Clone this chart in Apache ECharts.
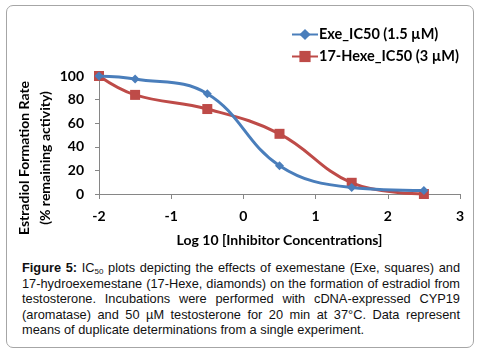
<!DOCTYPE html>
<html>
<head>
<meta charset="utf-8">
<script src="https://cdn.jsdelivr.net/npm/echarts@6/dist/echarts.min.js"></script>
<style>
  body { margin: 0; background: #fff; }
  #frame {
    position: absolute; left: 6px; top: 5px; width: 466px; height: 341px;
    border: 1px solid #a6a6a6; border-radius: 7px;
  }
  #chart { position: absolute; left: 0; top: 0; width: 480px; height: 252px; }
  #caption {
    position: absolute; left: 22px; top: 260px; width: 438px;
    font-family: 'Liberation Sans', Arial, sans-serif; font-size: 12.8px;
    line-height: 15.6px; color: #111;
  }
  #caption div { text-align: justify; text-align-last: justify; white-space: nowrap; }
  #caption div.last { text-align-last: left; }
  #caption sub { font-size: 8px; vertical-align: -2px; line-height: 0; }
</style>
</head>
<body>
<div id="frame"></div>
<div id="chart"></div>
<div id="caption">
  <div><b>Figure 5:</b> IC<sub>50</sub> plots depicting the effects of exemestane (Exe, squares) and</div>
  <div>17-hydroexemestane (17-Hexe, diamonds) on the formation of estradiol from</div>
  <div>testosterone. Incubations were performed with cDNA-expressed CYP19</div>
  <div>(aromatase) and 50 µM testosterone for 20 min at 37°C. Data represent</div>
  <div class="last">means of duplicate determinations from a single experiment.</div>
</div>
<script>
// log10 concentrations and remaining activity (%)
const logConc = [-2, -1.5, -0.5, 0.5, 1.5, 2.5]
const exeValues = [100, 97.5, 85, 24, 5.5, 3]
const hexeValues = [100, 84, 72, 51, 9.5, 0]
const seriesNames = ['Exe_IC50 (1.5 µM)', '17-Hexe_IC50 (3 µM)']

const font = 'Lato, Calibri, sans-serif'
const chart = echarts.init(document.getElementById('chart'))

const toPairs = (vals) => logConc.map((x, i) => [x, vals[i]])

chart.setOption({
  animation: false,
  textStyle: { fontFamily: font },
  legend: {
    orient: 'vertical',
    left: 286,
    top: 22,
    itemWidth: 26,
    itemHeight: 14,
    itemGap: 7,
    data: seriesNames,
    textStyle: { fontFamily: font, fontSize: 14.5, fontWeight: 'bold', color: '#000', padding: [0, 0, 0, -4] },
  },
  grid: { left: 99, right: 20, top: 76, height: 118 },
  xAxis: {
    type: 'value',
    min: -2,
    max: 3,
    interval: 1,
    name: 'Log 10 [Inhibitor Concentrations]',
    nameLocation: 'middle',
    nameGap: 39,
    nameTextStyle: { fontFamily: font, fontSize: 14, fontWeight: 'bold', color: '#000' },
    axisLine: { onZero: false, lineStyle: { color: '#868686', width: 1 } },
    axisTick: { show: true, length: 5, lineStyle: { color: '#868686' } },
    axisLabel: { fontFamily: font, fontSize: 14, fontWeight: 'bold', color: '#000', margin: 15 },
    splitLine: { show: false },
  },
  yAxis: {
    type: 'value',
    min: 0,
    max: 100,
    interval: 20,
    name: 'Estradiol Formation Rate\n(% remaining activity)',
    nameLocation: 'middle',
    nameGap: 43,
    nameMoveOverlap: false,
    nameTextStyle: {
      fontFamily: font, fontSize: 14, fontWeight: 'bold', color: '#000',
      lineHeight: 21, padding: [0, 46, 0, 0],
    },
    axisLine: { show: true, onZero: false, lineStyle: { color: '#868686', width: 1 } },
    axisTick: { show: true, length: 4, lineStyle: { color: '#868686' } },
    axisLabel: { fontFamily: font, fontSize: 14, fontWeight: 'bold', color: '#000', margin: 15 },
    splitLine: { show: false },
  },
  series: [
    {
      name: seriesNames[0],
      type: 'line',
      data: toPairs(exeValues),
      smooth: 0.4,
      symbol: 'diamond',
      symbolSize: 9,
      color: '#4a7ebb',
      lineStyle: { width: 3 },
      z: 3,
    },
    {
      name: seriesNames[1],
      type: 'line',
      data: toPairs(hexeValues),
      smooth: 0.4,
      symbol: 'rect',
      symbolSize: 10,
      color: '#be4b48',
      lineStyle: { width: 3 },
      z: 2,
    },
  ],
})
</script>
</body>
</html>
